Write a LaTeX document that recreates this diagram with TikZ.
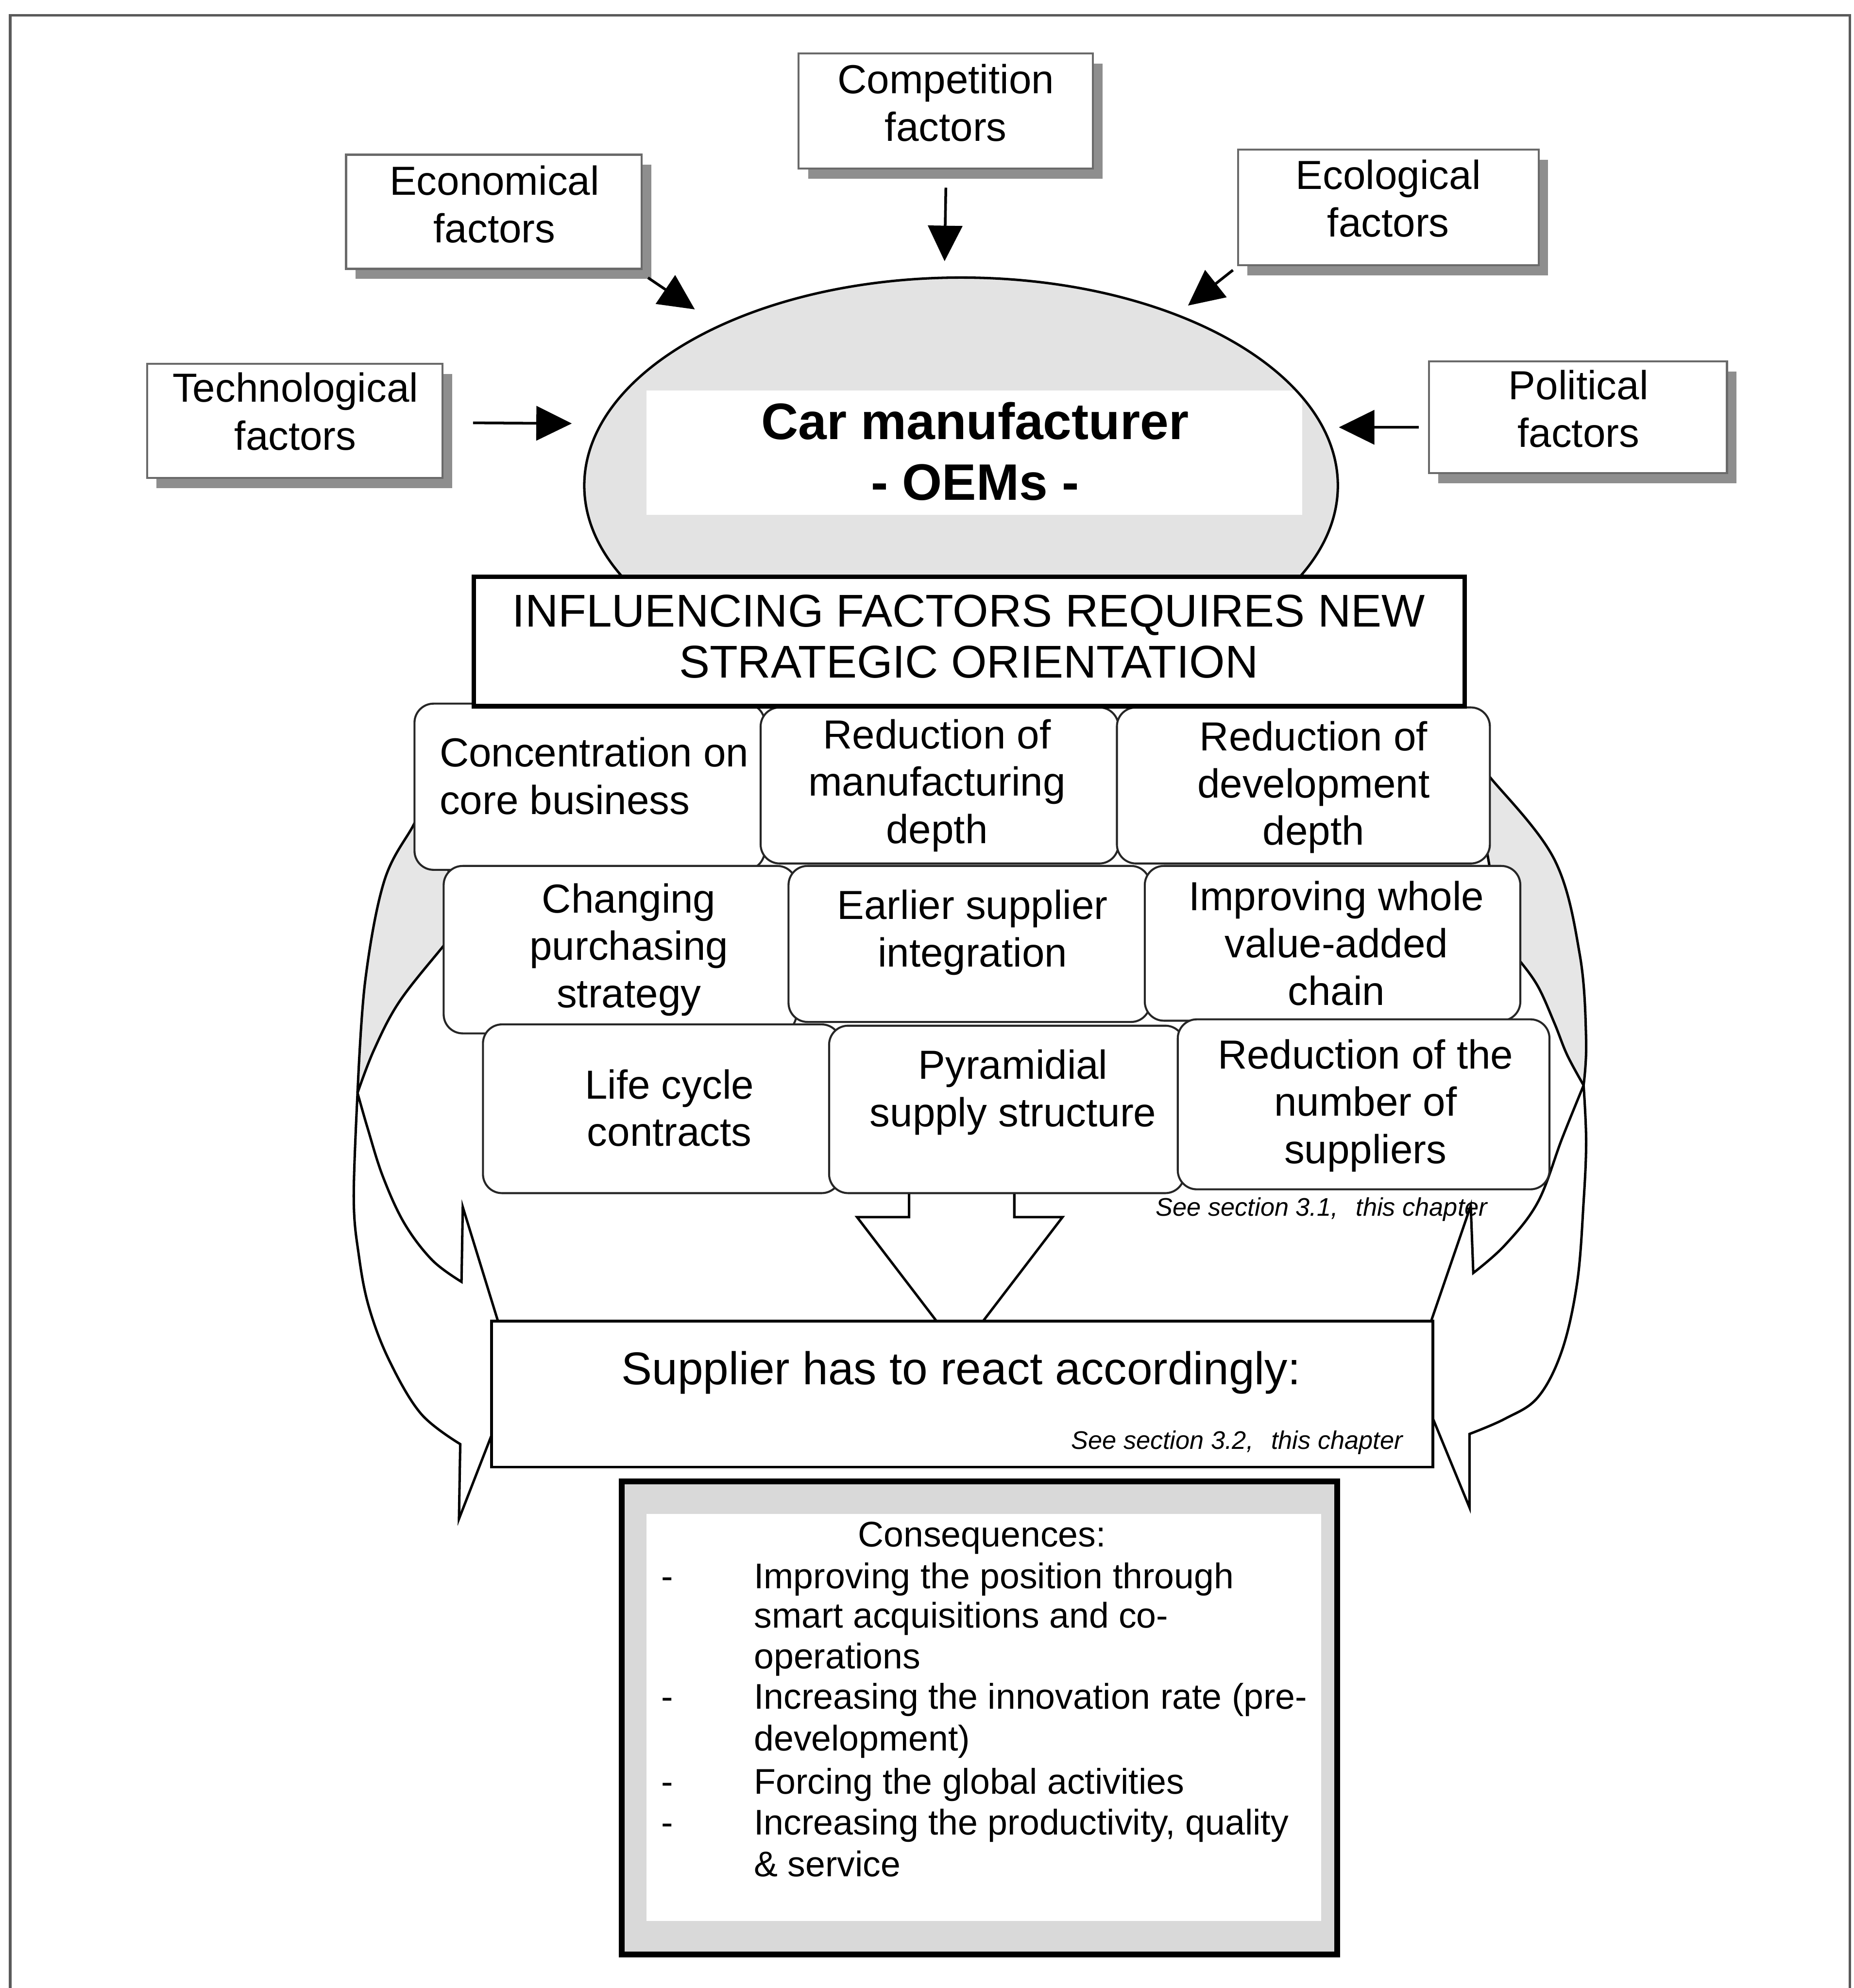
\documentclass[tikz,border=0pt]{standalone}
\usepackage{fontspec}
\setmainfont{Liberation Sans}
\usetikzlibrary{arrows.meta,shadows,shapes.geometric}
\newcommand\fsz[2]{\fontsize{#1pt}{#2pt}\selectfont}
\definecolor{domefill}{HTML}{E3E3E3}
\definecolor{backshade}{HTML}{E6E6E6}
\definecolor{shadowfill}{HTML}{8E8E8E}
\definecolor{boxline}{HTML}{6A6A6A}
\definecolor{frameline}{HTML}{5A5A5A}
\definecolor{consband}{HTML}{D9D9D9}

\begin{document}
\begin{tikzpicture}[x=0.01cm, y=-0.01cm,
  factorbox/.style={draw=boxline, line width=0.45pt, fill=white, inner sep=0pt, outer sep=0pt,
    drop shadow={shadow xshift=0.075cm, shadow yshift=-0.08cm, fill=shadowfill, opacity=1}},
  factortext/.style={font=\fsz{9.1}{10.7}, align=center, inner sep=0pt},
  push/.style={line width=0.6pt, -{Triangle[length=0.28cm, width=0.27cm]}},
  stratbox/.style={draw=black!85, line width=0.45pt, fill=white, rounded corners=0.15cm,
    inner sep=0pt, outer sep=0pt},
  strattext/.style={font=\fsz{9.1}{10.6}, align=center, inner sep=0pt},
  bandrear/.style={draw=black, line width=0.55pt, fill=backshade, line join=round},
  bandfront/.style={draw=black, line width=0.55pt, fill=white, line join=miter},
  note/.style={font=\fsz{5.7}{7}\itshape, inner sep=0pt},
  consline/.style={font=\fsz{8}{9.2}, inner sep=0pt, anchor=base west}]

\useasboundingbox (0,0) rectangle (1462,1568);

% page frame
\draw[frameline, line width=0.6pt] (8,1568) -- (8,12) -- (1459,12) -- (1459,1568);

% ---- external influencing factors ----
\node[factorbox, minimum width=2.32cm, minimum height=0.91cm] (comp) at (746,87.5) {};
\node[factortext] (compT) at (746,81) {Competition\\factors};
\node[factorbox, minimum width=2.33cm, minimum height=0.90cm] (econ) at (389.5,167) {};
\node[factortext] (econT) at (390,161) {Economical\\factors};
\node[factorbox, minimum width=2.37cm, minimum height=0.91cm] (ecol) at (1095,163.5) {};
\node[factortext] (ecolT) at (1095,156.5) {Ecological\\factors};
\node[factorbox, minimum width=2.33cm, minimum height=0.90cm] (tech) at (232.5,332) {};
\node[factortext] (techT) at (233,324.5) {Technological\\factors};
\node[factorbox, minimum width=2.35cm, minimum height=0.88cm] (polit) at (1244.5,329) {};
\node[factortext] (politT) at (1245,322.5) {Political\\factors};

% ---- the OEM dome ----
\node[ellipse, draw=none, fill=domefill, minimum width=5.94cm, minimum height=3.28cm,
  inner sep=0pt, outer sep=0pt] (oem) at (758,383) {};
\begin{scope}
  \clip (758,383) ellipse [x radius=2.97cm, y radius=1.64cm];
  \fill[white] (510,308) rectangle (1027,406);
\end{scope}
\draw[line width=0.55pt] (oem.center) ellipse [x radius=2.97cm, y radius=1.64cm];
\node[font=\bfseries\fsz{11.5}{13.6}, align=center, inner sep=0pt] (oemT) at (769,356)
  {Car manufacturer\\- OEMs -};

% arrow tips in front of the dome
\coordinate (compTip) at (745,206);
\coordinate (econTip) at (548,244);
\coordinate (ecolTip) at (937,241);
\coordinate (techTip) at (451,334);
\coordinate (politTip) at (1056,337);
\draw[push] ([yshift=-0.15cm]comp.south) -- (compTip);
\draw[push] ([shift={(0.05cm,-0.07cm)}]econ.south east) -- (econTip);
\draw[push] ([shift={(-0.04cm,-0.04cm)}]ecol.south west) -- (ecolTip);
\draw[push] ([shift={(0.24cm,-0.015cm)}]tech.east) -- (techTip);
\draw[push] ([shift={(-0.08cm,-0.08cm)}]polit.west) -- (politTip);

% reference below the strategy grid
\node[note, anchor=base west] (see31) at (911,959) {See section 3.1,\hspace{0.7em}this chapter};

% ---- twisted band arrows on both sides ----
\path[bandrear] plot[smooth, tension=0.6] coordinates {(338,628) (326,651) (303,695) (288,774) (282,862)}
  -- plot[smooth, tension=0.6] coordinates {(282,862) (295,828) (315,790) (349,747) (365,728)} -- cycle;
\path[bandfront] plot[smooth, tension=0.6] coordinates {(282,862) (290,890) (302,928) (319,965) (341,994) (364,1011)}
  -- (365,952) -- (406,1085) -- (362,1198) -- (363,1139)
  -- plot[smooth, tension=0.6] coordinates {(363,1139) (332,1115) (307,1073) (291,1031) (283,990) (279,945) (282,862)}
  -- cycle;

\path[bandrear] plot[smooth, tension=0.6] coordinates {(1160,598) (1176,614) (1226,678) (1246,753) (1251,820) (1249,856)}
  -- plot[smooth, tension=0.6] coordinates {(1249,856) (1236,832) (1226,807) (1213,778) (1198,757) (1185,742)} -- cycle;
\path[bandfront] plot[smooth, tension=0.6] coordinates {(1249,856) (1232,898) (1213,948) (1187,982) (1162,1004)}
  -- (1160,951) -- (1115,1082) -- (1159,1189) -- (1159,1131)
  -- plot[smooth, tension=0.6] coordinates {(1159,1131) (1187,1119) (1213,1102) (1232,1065) (1244,1011) (1249,948) (1251,900) (1249,856)}
  -- cycle;

% central block arrow down to the supplier
\path[bandfront] (717,935) -- (717,960) -- (676,960) -- (757,1066) -- (838,960) -- (800,960) -- (800,935) -- cycle;

% ---- strategy grid ----
\node[stratbox, minimum width=2.76cm, minimum height=1.31cm] (cb) at (465,620.5) {};
\node[stratbox, minimum width=2.82cm, minimum height=1.23cm] (md) at (741,619.5) {};
\node[stratbox, minimum width=2.94cm, minimum height=1.23cm] (dd) at (1028,619.5) {};
\node[font=\fsz{9.1}{10.6}, align=left, inner sep=0pt, anchor=west] (cbT) at (346,612) {Concentration on\\core business};
\node[strattext] (mdT) at (739,619.5) {Reduction of\\manufacturing\\depth};
\node[strattext] (ddT) at (1036,621) {Reduction of\\development\\depth};

\node[draw=black, line width=1pt, fill=white, minimum width=7.81cm, minimum height=1.02cm,
  inner sep=0pt] (infl) at (764.5,506) {};
\node[font=\fsz{10.3}{11.4}, align=center, inner sep=0pt] (inflT) at (764,502)
  {INFLUENCING FACTORS REQUIRES NEW\\STRATEGIC ORIENTATION};

\node[stratbox, minimum width=2.78cm, minimum height=1.32cm] (cps) at (489,749) {};
\node[stratbox, minimum width=2.85cm, minimum height=1.23cm] (esi) at (764.5,744.5) {};
\node[stratbox, minimum width=2.96cm, minimum height=1.22cm] (ivc) at (1051,744) {};
\node[strattext] (cpsT) at (496,749) {Changing\\purchasing\\strategy};
\node[strattext] (esiT) at (767,735.5) {Earlier supplier\\integration};
\node[strattext] (ivcT) at (1054,744) {Improving whole\\value-added\\chain};

\node[stratbox, minimum width=2.82cm, minimum height=1.33cm] (lcc) at (522,874.5) {};
\node[stratbox, minimum width=2.80cm, minimum height=1.32cm] (pss) at (794,875) {};
\node[stratbox, minimum width=2.93cm, minimum height=1.34cm] (rns) at (1075.5,871) {};
\node[strattext] (lccT) at (528,874) {Life cycle\\contracts};
\node[strattext] (pssT) at (799,861.5) {Pyramidial\\supply structure};
\node[strattext] (rnsT) at (1077,872) {Reduction of the\\number of\\suppliers};

% ---- supplier reaction ----
\node[draw=black, line width=0.6pt, fill=white, minimum width=7.42cm, minimum height=1.15cm,
  inner sep=0pt] (supp) at (759,1099.5) {};
\node[font=\fsz{10.3}{12}, inner sep=0pt, anchor=base] (suppT) at (758,1092) {Supplier has to react accordingly:};
\node[note, anchor=base east] (see32) at (1107,1143) {See section 3.2,\hspace{0.7em}this chapter};

% ---- consequences ----
\node[draw=black, line width=1.35pt, fill=consband, minimum width=5.64cm, minimum height=3.73cm,
  inner sep=0pt] (cons) at (772.5,1355) {};
\node[fill=white, minimum width=5.32cm, minimum height=3.21cm, inner sep=0pt] (consIn) at (776,1354.5) {};
\node[font=\fsz{8}{9.2}, inner sep=0pt, anchor=base] (consHead) at (774.5,1220) {Consequences:};
\node[consline] (b1) at (521,1253) {-};
\node[consline] (c1) at (594,1253) {Improving the position through};
\node[consline] (c2) at (594,1284) {smart acquisitions and co-};
\node[consline] (c3) at (594,1316) {operations};
\node[consline] (b2) at (521,1348) {-};
\node[consline] (c4) at (594,1348) {Increasing the innovation rate (pre-};
\node[consline] (c5) at (594,1381) {development)};
\node[consline] (b3) at (521,1415) {-};
\node[consline] (c6) at (594,1415) {Forcing the global activities};
\node[consline] (b4) at (521,1447) {-};
\node[consline] (c7) at (594,1447) {Increasing the productivity, quality};
\node[consline] (c8) at (594,1480) {\& service};

\end{tikzpicture}
\end{document}
